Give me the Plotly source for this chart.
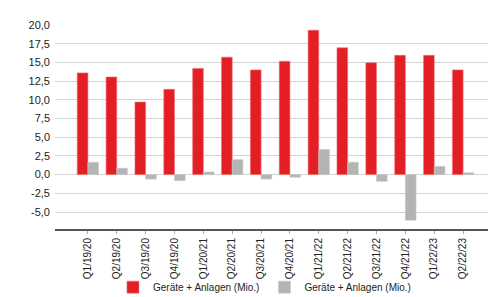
import plotly.graph_objects as go

categories = ["Q1/19/20", "Q2/19/20", "Q3/19/20", "Q4/19/20", "Q1/20/21", "Q2/20/21",
              "Q3/20/21", "Q4/20/21", "Q1/21/22", "Q2/21/22", "Q3/21/22", "Q4/21/22",
              "Q1/22/23", "Q2/22/23"]
series_a = [13.6, 13.05, 9.7, 11.4, 14.2, 15.7, 14.0, 15.15, 19.3, 16.95, 14.95, 15.95, 15.95, 14.0]
series_b = [1.65, 0.85, -0.6, -0.8, 0.35, 2.0, -0.6, -0.35, 3.35, 1.65, -0.9, -6.1, 1.1, 0.25]
series_name = "Geräte + Anlagen (Mio.)"
y_ticks = [-5.0, -2.5, 0.0, 2.5, 5.0, 7.5, 10.0, 12.5, 15.0, 17.5, 20.0]
y_tick_labels = [f"{v:.1f}".replace(".", ",") for v in y_ticks]

fig = go.Figure()
fig.add_trace(go.Bar(x=categories, y=series_a, name=series_name,
                     marker=dict(color="#e31e24", line=dict(color="#f07070", width=0.6))))
fig.add_trace(go.Bar(x=categories, y=series_b, name=series_name,
                     marker=dict(color="#b4b4b4", line=dict(color="#c8c8c8", width=0.6))))

fig.update_layout(
    width=496, height=297,
    margin=dict(l=47, r=8, t=17, b=76, autoexpand=False),
    paper_bgcolor="white", plot_bgcolor="white",
    barmode="group", bargap=0.26, bargroupgap=0,
    font=dict(family="Liberation Sans, Arial, sans-serif", color="#222"),
    showlegend=True,
    legend=dict(orientation="h", x=0.475, xanchor="center",
                y=-0.285, yanchor="middle",
                font=dict(size=10, color="#222"), itemwidth=30,
                tracegroupgap=0, bgcolor="rgba(0,0,0,0)"),
)
fig.update_xaxes(
    type="category", range=[-1.14, 14.14],
    tickangle=-90, tickfont=dict(size=10, color="#222"),
    showline=True, linecolor="#555", linewidth=2,
    ticks="outside", ticklen=3, tickcolor="#aaa", tickwidth=1,
    showgrid=False, zeroline=False, automargin=False,
)
fig.update_yaxes(
    range=[-7.27, 20], tickvals=y_ticks, ticktext=y_tick_labels,
    tickfont=dict(size=11, color="#222"),
    showgrid=True, gridcolor="#d4d4d4", gridwidth=1,
    zeroline=True, zerolinecolor="#d4d4d4", zerolinewidth=1,
    showline=False, ticks="", ticklabelstandoff=4, automargin=False,
)

fig.write_html("out.html")
